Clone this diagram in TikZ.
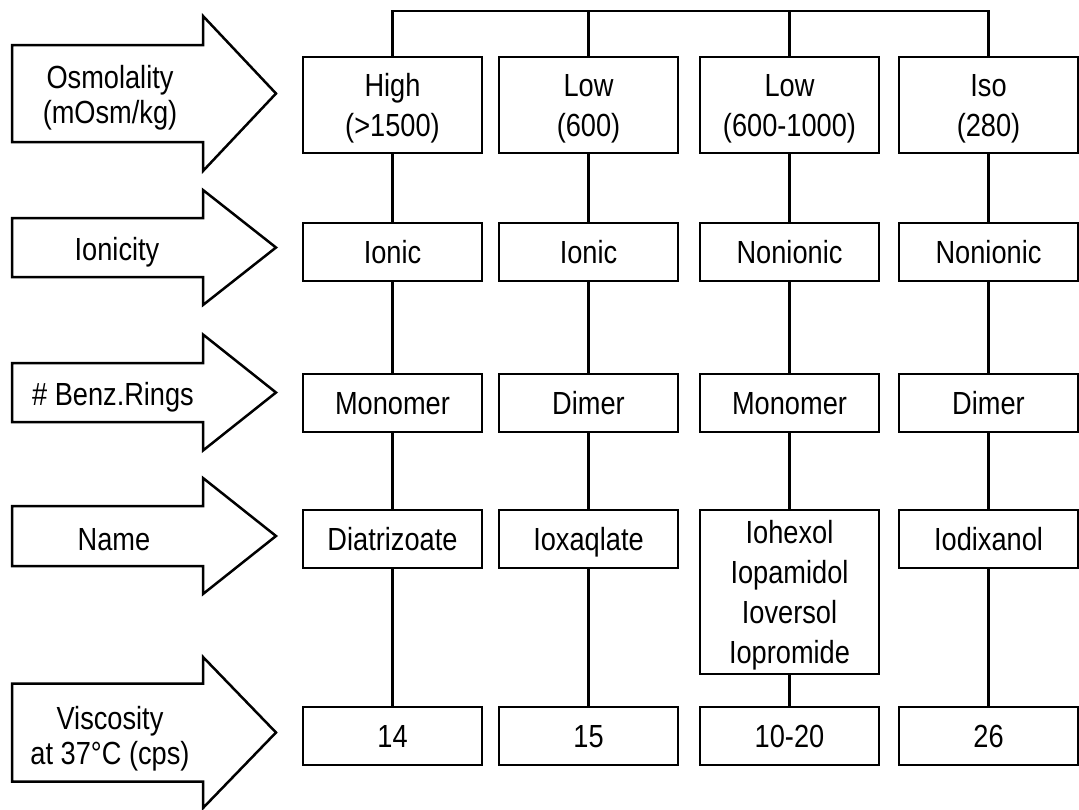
\documentclass[tikz,border=0pt]{standalone}
\usepackage{fontspec}
\setmainfont{Liberation Sans}[FakeStretch=0.85]
\begin{document}
\begin{tikzpicture}[x=1pt,y=-1pt,line width=2.5pt,
  boxm/.style={draw, line width=2.5pt, minimum width=179pt, minimum height=58pt, inner sep=0pt, align=center, font=\fontsize{32}{40}\selectfont},
  box/.style={boxm, text height=23pt, text depth=0pt},
  lblm/.style={align=center, inner sep=0pt, font=\fontsize{32}{35}\selectfont},
  lbl/.style={lblm, text height=23pt, text depth=0pt},
  link/.style={line width=2.5pt}]
\useasboundingbox (0,0) rectangle (1079,809);
\newcommand\bigarr[8]{%
  \draw[line join=miter] (12,{#2-#3}) -- (203,{#2-#3}) -- (203,{#2-#4}) -- (276,#2) -- (203,{#2+#4}) -- (203,{#2+#3}) -- (12,{#2+#3}) -- cycle;
  \node[#8] (#1) at (#6,#7) {#5};}
% left arrows
\bigarr{aosm}{93.5}{48.5}{77.5}{Osmolality\\\smash{(mOsm/kg)}}{110}{94}{lblm}
\bigarr{aion}{247.5}{29.5}{57.5}{Ionicity}{117}{249}{lbl}
\bigarr{aben}{392.5}{29.5}{58}{\# Benz.Rings}{113}{394}{lbl}
\bigarr{anam}{536}{30}{58}{Name}{114}{538.5}{lbl}
\bigarr{avis}{732.5}{49}{75.5}{Viscosity\\\smash{at 37°C (cps)}}{110}{735}{lblm}
% row 1
\node[boxm, minimum height=96pt] (o1) at (392.5,105) {High\\\smash{(>1500)}};
\node[boxm, minimum height=96pt] (o2) at (588.5,105) {Low\\\smash{(600)}};
\node[boxm, minimum height=96pt] (o3) at (789.5,105) {Low\\\smash{(600-1000)}};
\node[boxm, minimum height=96pt] (o4) at (988.5,105) {Iso\\\smash{(280)}};
% row 2
\node[box] (i1) at (392.5,252) {Ionic};
\node[box] (i2) at (588.5,252) {Ionic};
\node[box] (i3) at (789.5,252) {Nonionic};
\node[box] (i4) at (988.5,252) {Nonionic};
% row 3
\node[box] (r1) at (392.5,403) {Monomer};
\node[box] (r2) at (588.5,403) {Dimer};
\node[box] (r3) at (789.5,403) {Monomer};
\node[box] (r4) at (988.5,403) {Dimer};
% row 4
\node[box] (n1) at (392.5,539) {Diatrizoate};
\node[box] (n2) at (588.5,539) {Ioxaqlate};
\node[boxm, minimum height=164pt] (n3) at (789.5,592) {Iohexol\\Iopamidol\\Ioversol\\\smash{Iopromide}};
\node[box] (n4) at (988.5,539) {Iodixanol};
% row 5
\node[box] (v1) at (392.5,736) {14};
\node[box] (v2) at (588.5,736) {15};
\node[box] (v3) at (789.5,736) {10-20};
\node[box] (v4) at (988.5,736) {26};
% bus
\coordinate (b1) at (392.5,11);
\coordinate (b2) at (588.5,11);
\coordinate (b3) at (789.5,11);
\coordinate (b4) at (988.5,11);
\draw[link, line join=miter] (o1.north) -- (b1) -- (b4) -- (o4.north);
\draw[link] (b2) -- (o2.north);
\draw[link] (b3) -- (o3.north);
% columns
\foreach \c in {1,2,3,4}{
  \draw[link] (o\c.south) -- (i\c.north);
  \draw[link] (i\c.south) -- (r\c.north);
  \draw[link] (r\c.south) -- (n\c.north);
  \draw[link] (n\c.south) -- (v\c.north);
}
\end{tikzpicture}
\end{document}
